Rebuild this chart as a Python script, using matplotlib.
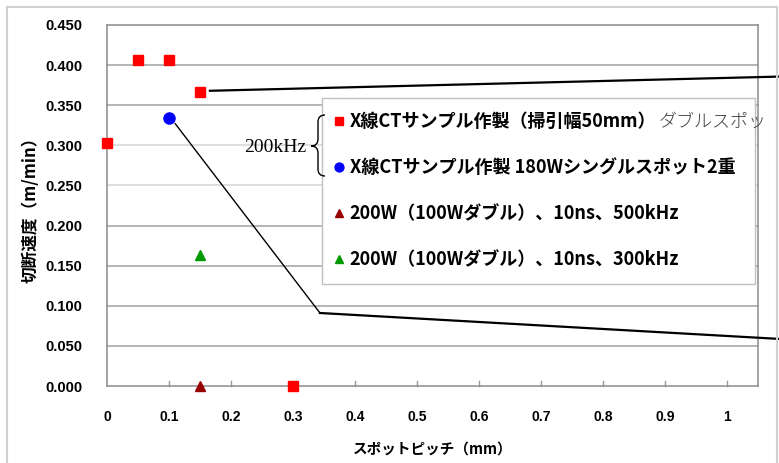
import numpy as np
import matplotlib
matplotlib.use("Agg")
import matplotlib.pyplot as plt
from matplotlib.path import Path
from matplotlib.patches import PathPatch, Rectangle
from matplotlib.lines import Line2D
from matplotlib.transforms import Affine2D

plt.rcParams['font.family'] = ['Noto Sans CJK JP', 'DejaVu Sans']

# %%
# cutting speed vs spot pitch
red_x = [0, 0.05, 0.1, 0.15, 0.3]
red_y = [0.303, 0.406, 0.406, 0.366, 0.0]
blue_x = [0.1]
blue_y = [0.334]
dred_x = [0.15]
dred_y = [0.0]
green_x = [0.15]
green_y = [0.163]

labels = ["X線CTサンプル作製（掃引幅50mm）",
          "X線CTサンプル作製 180Wシングルスポット2重",
          "200W（100Wダブル）、10ns、500kHz",
          "200W（100Wダブル）、10ns、300kHz"]
overflow_text = "ダブルスポッ"
brace_text = "200kHz"

xticks = np.arange(0, 1.01, 0.1)
xtick_labels = ["0", "0.1", "0.2", "0.3", "0.4", "0.5", "0.6", "0.7", "0.8", "0.9", "1"]
yticks = np.arange(0, 0.451, 0.05)

# leader lines (data coords, run off the right edge)
lead1_x = [0.166, 1.10]
lead1_y = [0.368, 0.386]
lead2a_x = [0.110, 0.3435]
lead2a_y = [0.327, 0.091]
lead2b_x = [0.3435, 1.10]
lead2b_y = [0.091, 0.058]

# %%
W, H = 779, 463
fig = plt.figure(figsize=(W / 100, H / 100), dpi=100, facecolor="white")
ax = fig.add_axes([107 / W, 1 - 386 / H, (758 - 107) / W, (386 - 25) / H])
ax.patch.set_facecolor("none")

# image-pixel transform for decorations
px = Affine2D().scale(1 / W, -1 / H).translate(0, 1) + fig.transFigure

ax.set_xlim(0, 1.05)
ax.set_ylim(0, 0.45)
ax.set_xticks(xticks)
ax.set_xticklabels(xtick_labels, fontfamily="Liberation Sans", fontweight="bold", fontsize=10)
ax.set_yticks(yticks)
ax.set_yticklabels(["%.3f" % v for v in yticks], fontfamily="Liberation Sans", fontweight="bold", fontsize=10.5)
ax.tick_params(axis="x", length=0, pad=17)
ax.tick_params(axis="y", length=0, pad=18)
for s in ax.spines.values():
    s.set_color("#8c8c8c")
    s.set_linewidth(1.1)

x0, x1 = ax.get_xlim()
y0, y1 = ax.get_ylim()

# horizontal gridlines, drawn behind the (transparent) axes
for y in yticks[1:-1]:
    c = "#d4d4d4" if round(y, 2) in (0.25, 0.3) else "#a0a0a0"
    fig.add_artist(Line2D([x0, x1], [y, y], transform=ax.transData, color=c, lw=1.1, zorder=-1))

# small inward tick marks on the x axis
tick_h = (y1 - y0) * 0.014
for xt in xticks[1:]:
    fig.add_artist(Line2D([xt, xt], [y0, y0 + tick_h], transform=ax.transData,
                          color="#999999", lw=1.0, zorder=-1))

ax.plot(red_x, red_y, "s", color="#ff0000", ms=6.5, ls="none", clip_on=False, zorder=3, label=labels[0])
ax.plot(blue_x, blue_y, "o", color="#0000ff", ms=8, ls="none", clip_on=False, zorder=3, label=labels[1])
ax.plot(dred_x, dred_y, "^", color="#990000", ms=7, ls="none", clip_on=False, zorder=3, label=labels[2])
ax.plot(green_x, green_y, "^", color="#009900", ms=7, ls="none", clip_on=False, zorder=3, label=labels[3])

ax.set_xlabel("スポットピッチ（mm）", fontsize=10.5, fontweight="bold", labelpad=12)
ax.set_ylabel("切断速度（m/min）", fontsize=12, fontweight="bold", labelpad=4)

leg = ax.legend(loc="upper left", bbox_to_anchor=(0.330, 0.291, 0.666, 0.507), mode="expand",
                borderaxespad=0, frameon=True, fancybox=False, edgecolor="#bfbfbf", framealpha=1,
                labelspacing=1.5, handlelength=0.3, handletextpad=0.45,
                borderpad=0.8, markerscale=0.8, prop={"weight": "bold", "size": 13})
leg.get_frame().set_linewidth(1.0)
leg.set_zorder(4)

# leader lines
ax.plot(lead1_x, lead1_y, color="black", lw=1.6, clip_on=False, zorder=5)
ax.plot(lead2a_x, lead2a_y, color="black", lw=1.0, clip_on=False, zorder=5)
ax.plot(lead2b_x, lead2b_y, color="black", lw=1.6, clip_on=False, zorder=5)

# brace + 200kHz
verts = [(325, 115), (318, 115), (318, 122), (318, 139), (318, 146), (311, 146),
         (318, 146), (318, 153), (318, 169), (318, 176), (325, 176)]
codes = [Path.MOVETO, Path.CURVE3, Path.CURVE3, Path.LINETO, Path.CURVE3, Path.CURVE3,
         Path.CURVE3, Path.CURVE3, Path.LINETO, Path.CURVE3, Path.CURVE3]
fig.add_artist(PathPatch(Path(verts, codes), transform=px, fill=False, lw=1.0, edgecolor="black"))
fig.text(306, 147, brace_text, transform=px, fontfamily="Liberation Serif", fontsize=14,
         ha="right", va="center")

# text sticking out of the legend, right after the first label
fig.canvas.draw()
bb = leg.get_texts()[0].get_window_extent()
fig.text(bb.x1 + 2, (bb.y0 + bb.y1) / 2, overflow_text, transform=None, fontsize=13,
         fontweight="light", color="#404040", va="center", ha="left", zorder=6)

# chart area border
fig.add_artist(Rectangle((7 / W, -0.05), (777 - 7) / W, 1.05 - 7 / H, transform=fig.transFigure,
                         fill=False, edgecolor="#d0d0d0", lw=1.5))

plt.savefig("out.png", dpi=100)
